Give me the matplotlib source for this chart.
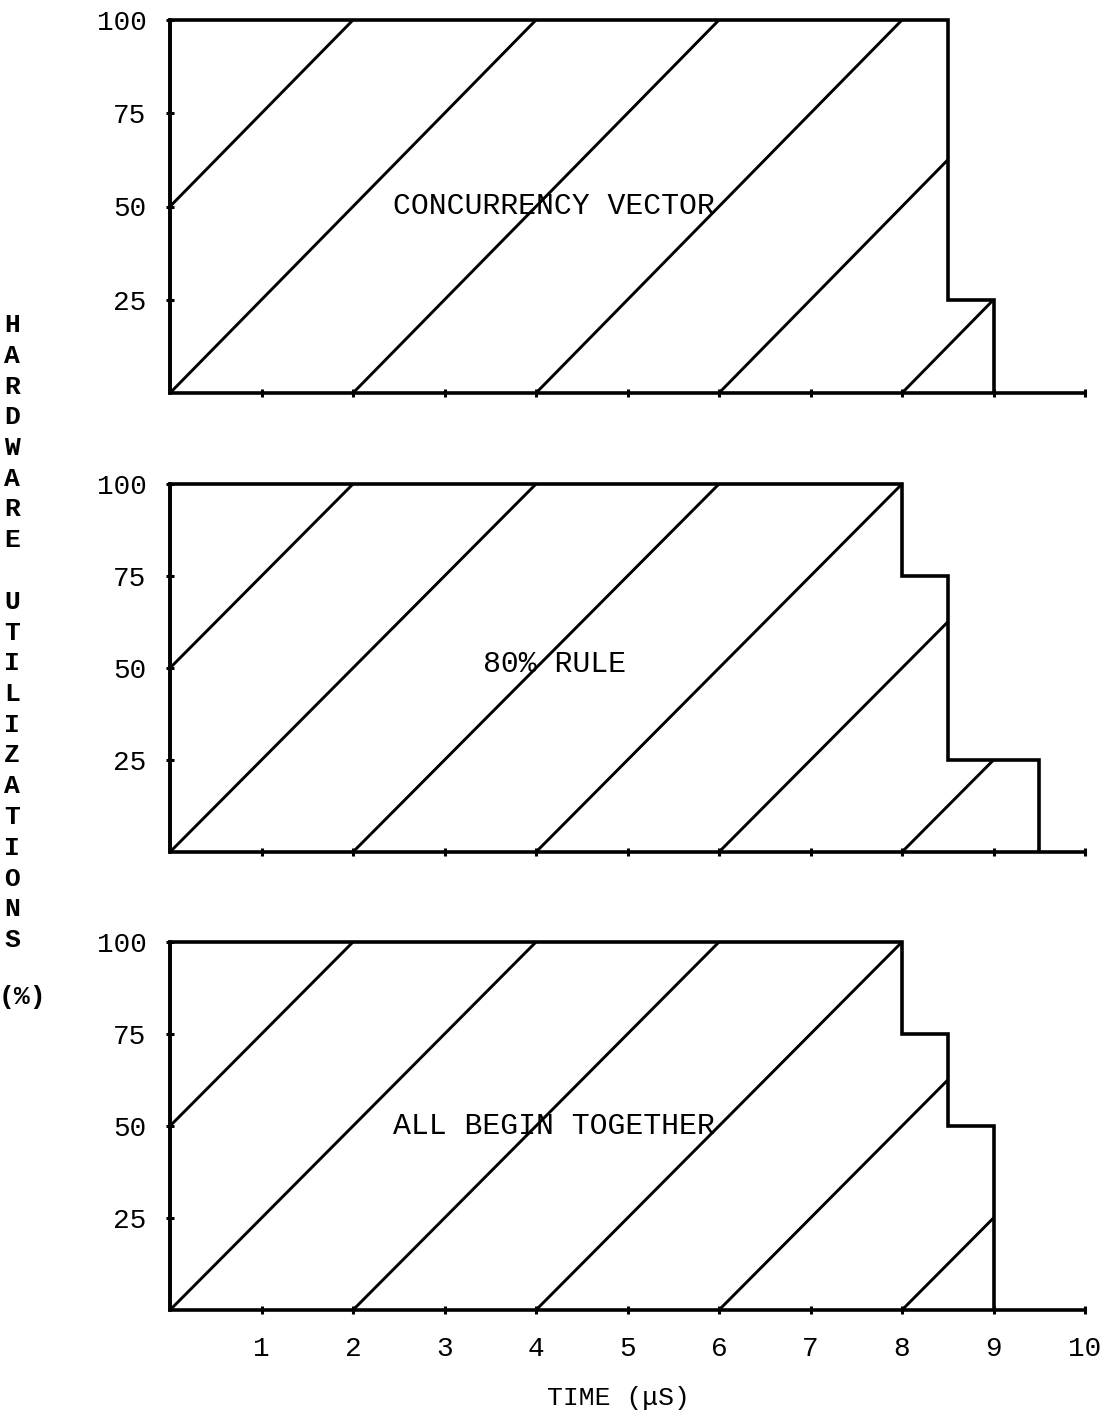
import matplotlib
matplotlib.use("Agg")
import matplotlib.pyplot as plt

# step outlines: time edges (us) and hardware utilization (%) per step
edges_cv = [0.0, 8.5, 9.0]
util_cv = [100, 25]

edges_80 = [0.0, 8.0, 8.5, 9.5]
util_80 = [100, 75, 25]

edges_all = [0.0, 8.0, 8.5, 9.0]
util_all = [100, 75, 50]

panel_names = ["CONCURRENCY VECTOR", "80% RULE", "ALL BEGIN TOGETHER"]
label_pos = [(4.2, 50), (4.2, 51), (4.2, 50)]

# hatch lines start on the time axis at these offsets
hatch_starts = [-2, 0, 2, 4, 6, 8]
hatch_slope = 25.0

yticks = [25, 50, 75, 100]
xticks = [1, 2, 3, 4, 5, 6, 7, 8, 9, 10]
ylabel_text = "HARDWARE UTILIZATIONS"
xlabel_text = "TIME (\u03bcS)"

font = "Liberation Mono"
lw_axis = 2.6
lw_hatch = 2.1

fig = plt.figure(figsize=(11.06, 14.19), dpi=100)
W, H = 1106.0, 1419.0

panels = [
    (edges_cv, util_cv, 20, 393),
    (edges_80, util_80, 484, 852),
    (edges_all, util_all, 942, 1310),
]

axes = []
for i, (edges, util, ytop, ybot) in enumerate(panels):
    ax = fig.add_axes([170 / W, (H - ybot) / H, 915 / W, (ybot - ytop) / H])
    ax.set_xlim(0, 10)
    ax.set_ylim(0, 100)

    patch = ax.stairs(util, edges, baseline=0, fill=True, facecolor="none",
                      edgecolor="black", linewidth=lw_axis, clip_on=False, zorder=3)

    for c in hatch_starts:
        ln, = ax.plot([c, c + 100 / hatch_slope], [0, 100], color="black",
                      linewidth=lw_hatch, zorder=2)
        ln.set_clip_path(patch)

    tx, ty = label_pos[i]
    ax.text(tx, ty, panel_names[i], ha="center", va="center",
            fontsize=21.5, family=font, zorder=4)

    for s in ["top", "right"]:
        ax.spines[s].set_visible(False)
    for s in ["left", "bottom"]:
        ax.spines[s].set_linewidth(lw_axis)

    ax.set_yticks(yticks)
    ax.set_yticklabels([str(v) for v in yticks], fontsize=20, family=font)
    ax.set_xticks(xticks)
    if i == 2:
        ax.set_xticklabels([str(v) for v in xticks], fontsize=20, family=font)
    else:
        ax.set_xticklabels([])
    ax.tick_params(axis="both", direction="inout", length=6, width=2.2)
    ax.tick_params(axis="y", pad=14)
    ax.tick_params(axis="x", pad=16)
    axes.append(ax)

# vertical stacked y-label
y0 = 325
step = 30.75
for k, ch in enumerate(ylabel_text):
    if ch != " ":
        fig.text(12 / W, (H - (y0 + k * step)) / H, ch, ha="center", va="center",
                 fontsize=19, family=font, weight="bold")
fig.text(22 / W, (H - 997) / H, "(%)", ha="center", va="center",
         fontsize=19, family=font, weight="bold")

fig.text(618 / W, (H - 1398) / H, xlabel_text, ha="center", va="center",
         fontsize=19, family=font)

fig.savefig("out.png", dpi=100)
